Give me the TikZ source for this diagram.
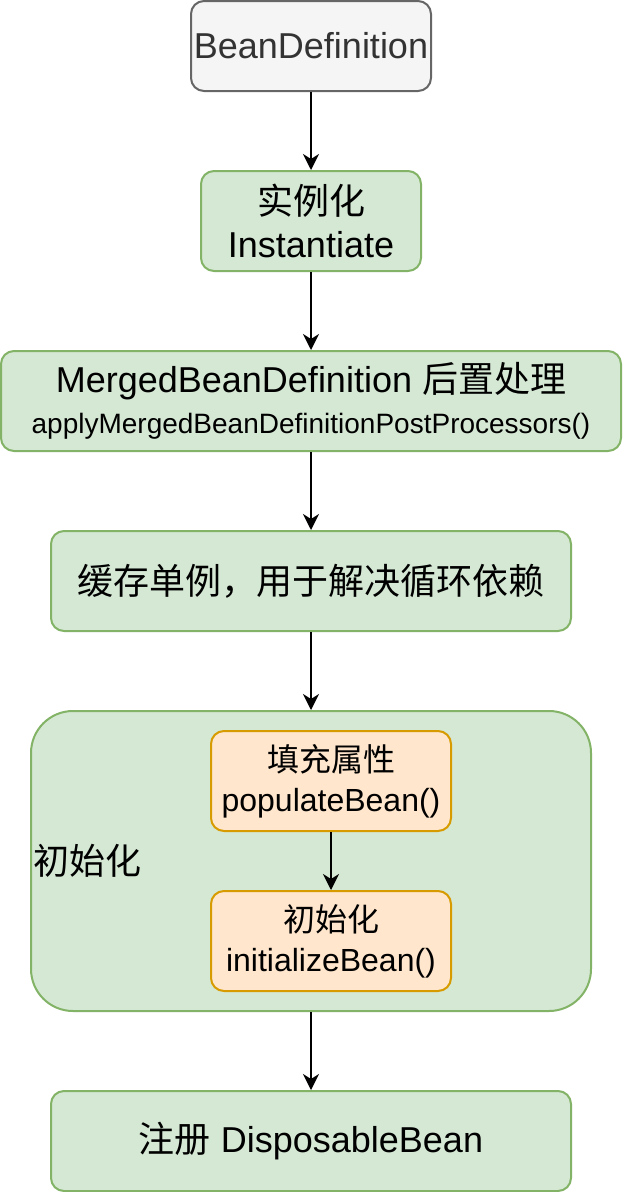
\documentclass[tikz,border=0pt]{standalone}
\usepackage{fontspec}
\setmainfont{Liberation Sans}
\newfontfamily\cjk{Noto Sans CJK SC}
\usetikzlibrary{arrows.meta}
\definecolor{grayfill}{HTML}{F5F5F5}
\definecolor{graystroke}{HTML}{666666}
\definecolor{graytext}{HTML}{333333}
\definecolor{greenfill}{HTML}{D5E8D4}
\definecolor{greenstroke}{HTML}{82B366}
\definecolor{orangefill}{HTML}{FFE6CC}
\definecolor{orangestroke}{HTML}{D79B00}
\begin{document}
\begin{tikzpicture}[x=1pt,y=-1pt,
  box/.style={draw, rectangle, rounded corners=13pt, line width=2pt, align=center, inner sep=0pt},
  graybox/.style={box, fill=grayfill, draw=graystroke, text=graytext},
  greenbox/.style={box, fill=greenfill, draw=greenstroke},
  orangebox/.style={box, fill=orangefill, draw=orangestroke},
  big/.style={font=\fontsize{36}{43}\selectfont},
  mid/.style={font=\fontsize{32}{40}\selectfont},
  arr/.style={line width=2pt, -{Stealth[length=16pt,width=16pt,inset=5pt]}}
]
\useasboundingbox (0,0) rectangle (622,1192);

\node[graybox, big, minimum width=240pt, minimum height=90pt] (bd) at (311,46) {BeanDefinition};
\node[greenbox, big, minimum width=220pt, minimum height=100pt] (inst) at (311,221) {{\cjk 实例化}\\Instantiate};
\node[greenbox, big, minimum width=620pt, minimum height=100pt] (merged) at (311,401)
  {MergedBeanDefinition {\cjk 后置处理}\\[-2pt]{\fontsize{28}{34}\selectfont applyMergedBeanDefinitionPostProcessors()}};
\node[greenbox, big, minimum width=520pt, minimum height=100pt] (cache) at (311,581) {\cjk 缓存单例，用于解决循环依赖};
\node[greenbox, rounded corners=42pt, minimum width=560pt, minimum height=300pt] (init) at (311,861) {};
\node[big, anchor=west, inner sep=0pt] (initlabel) at (33,861) {\cjk 初始化};
\node[orangebox, mid, minimum width=240pt, minimum height=100pt] (pop) at (331,781) {{\cjk 填充属性}\\populateBean()};
\node[orangebox, mid, minimum width=240pt, minimum height=100pt] (ib) at (331,941) {{\cjk 初始化}\\initializeBean()};
\node[greenbox, big, minimum width=520pt, minimum height=100pt] (reg) at (311,1141) {{\cjk 注册} DisposableBean};

\draw[arr] (bd.south) -- (inst.north);
\draw[arr] (inst.south) -- (merged.north);
\draw[arr] (merged.south) -- (cache.north);
\draw[arr] (cache.south) -- (init.north);
\draw[arr] (pop.south) -- (ib.north);
\draw[arr] (init.south) -- (reg.north);
\end{tikzpicture}
\end{document}
